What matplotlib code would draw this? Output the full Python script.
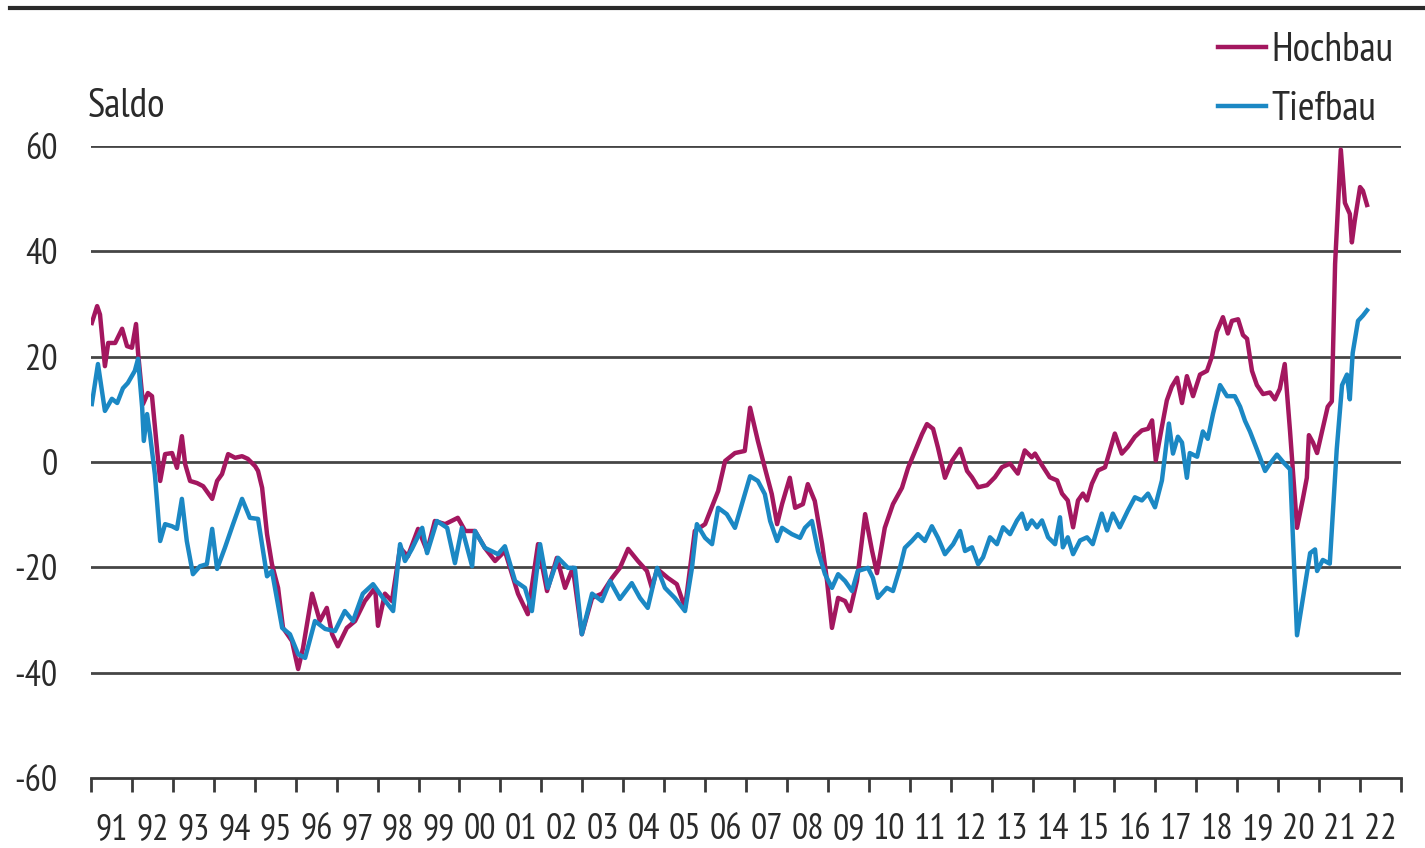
import numpy as np
import matplotlib
matplotlib.use('Agg')
import matplotlib.pyplot as plt
from matplotlib.lines import Line2D

plt.rcParams['font.family'] = ['PT Sans Narrow', 'DejaVu Sans']

# Hochbau (decimal year, Saldo)
hoch_t = [1991.02, 1991.15, 1991.22, 1991.34, 1991.42, 1991.59, 1991.76, 1991.88, 1992.00, 1992.10,
          1992.15, 1992.27, 1992.39, 1992.49, 1992.61, 1992.69, 1992.81, 1992.98, 1993.10, 1993.22,
          1993.30, 1993.42, 1993.59, 1993.74, 1993.96, 1994.08, 1994.20, 1994.35, 1994.52, 1994.69,
          1994.83, 1995.01, 1995.08, 1995.18, 1995.30, 1995.42, 1995.57, 1995.69, 1995.91, 1996.06,
          1996.18, 1996.40, 1996.59, 1996.76, 1996.89, 1997.03, 1997.25, 1997.45, 1997.69, 1997.94,
          1998.01, 1998.18, 1998.35, 1998.55, 1998.74, 1998.99, 1999.21, 1999.40, 1999.65, 1999.96,
          2000.14, 2000.38, 2000.62, 2000.87, 2001.11, 2001.43, 2001.67, 2001.92, 2002.14, 2002.38,
          2002.58, 2002.77, 2002.99, 2003.24, 2003.48, 2003.73, 2003.92, 2004.12, 2004.36, 2004.58,
          2004.70, 2004.83, 2005.09, 2005.31, 2005.51, 2005.75, 2006.00, 2006.32, 2006.49, 2006.73,
          2006.97, 2007.10, 2007.29, 2007.46, 2007.63, 2007.76, 2007.88, 2008.07, 2008.20, 2008.39,
          2008.51, 2008.68, 2008.86, 2008.98, 2009.10, 2009.25, 2009.42, 2009.54, 2009.71, 2009.91,
          2010.08, 2010.20, 2010.39, 2010.59, 2010.81, 2010.96, 2011.13, 2011.30, 2011.42, 2011.57,
          2011.69, 2011.86, 2012.03, 2012.23, 2012.40, 2012.52, 2012.67, 2012.89, 2013.08, 2013.25,
          2013.45, 2013.64, 2013.81, 2013.98, 2014.06, 2014.23, 2014.42, 2014.60, 2014.72, 2014.86,
          2014.99, 2015.11, 2015.23, 2015.33, 2015.45, 2015.60, 2015.77, 2015.89, 2016.01, 2016.18,
          2016.33, 2016.50, 2016.67, 2016.82, 2016.92, 2017.01, 2017.16, 2017.28, 2017.40, 2017.53,
          2017.65, 2017.77, 2017.92, 2018.09, 2018.26, 2018.38, 2018.50, 2018.65, 2018.77, 2018.87,
          2019.02, 2019.14, 2019.24, 2019.36, 2019.48, 2019.63, 2019.80, 2019.92, 2020.04, 2020.16,
          2020.29, 2020.46, 2020.60, 2020.70, 2020.75, 2020.85, 2020.95, 2021.09, 2021.21, 2021.31,
          2021.39, 2021.53, 2021.63, 2021.75, 2021.80, 2021.87, 2022.00, 2022.07, 2022.17]
hoch_v = [26.4, 29.6, 28.0, 18.2, 22.6, 22.6, 25.3, 22.0, 21.7, 26.2,
          20.7, 11.0, 13.1, 12.5, 2.7, -3.6, 1.5, 1.7, -1.1, 4.9,
          -0.4, -3.6, -4.0, -4.6, -7.0, -3.6, -2.3, 1.5, 0.8, 1.1,
          0.6, -0.8, -1.7, -4.9, -13.7, -19.4, -23.9, -31.5, -34.0, -39.3,
          -35.3, -25.0, -30.2, -27.7, -32.7, -35.0, -31.5, -30.2, -26.4, -23.9,
          -31.1, -25.0, -26.4, -16.3, -17.9, -12.7, -16.9, -11.2, -11.8, -10.6,
          -13.1, -13.1, -16.3, -18.8, -16.9, -25.0, -28.9, -15.6, -24.5, -18.2,
          -23.9, -20.1, -32.7, -25.8, -25.0, -22.0, -20.1, -16.5, -18.8, -20.7,
          -23.9, -20.3, -22.0, -23.2, -27.7, -13.1, -11.8, -5.5, 0.2, 1.7,
          2.1, 10.3, 4.0, -1.1, -6.1, -11.8, -8.0, -3.0, -8.7, -8.0,
          -4.2, -7.4, -15.6, -22.6, -31.5, -25.8, -26.4, -28.3, -22.6, -9.9,
          -16.9, -21.1, -12.5, -8.0, -4.9, -1.1, 2.1, 5.3, 7.2, 6.3,
          2.7, -3.0, 0.2, 2.5, -1.7, -2.9, -4.8, -4.4, -2.9, -1.0,
          -0.3, -2.2, 2.2, 0.9, 1.6, -0.6, -2.9, -3.5, -6.0, -7.3,
          -12.4, -7.3, -6.0, -7.3, -4.1, -1.6, -1.0, 2.2, 5.4, 1.6,
          2.9, 4.8, 6.0, 6.3, 7.9, 0.3, 6.7, 11.7, 14.3, 16.0,
          11.2, 16.3, 12.5, 16.6, 17.3, 20.0, 24.7, 27.5, 24.4, 26.8,
          27.1, 24.1, 23.4, 17.3, 14.6, 12.9, 13.2, 11.9, 13.9, 18.6,
          5.8, -12.5, -7.1, -3.0, 5.1, 3.7, 1.7, 6.4, 10.5, 11.5,
          37.6, 59.3, 49.2, 47.1, 41.7, 45.8, 52.2, 51.5, 48.8]

# Tiefbau (decimal year, Saldo)
tief_t = [1991.02, 1991.17, 1991.34, 1991.51, 1991.64, 1991.78, 1991.90, 1992.07, 1992.15, 1992.25,
          1992.29, 1992.37, 1992.44, 1992.56, 1992.69, 1992.81, 1992.98, 1993.10, 1993.22, 1993.34,
          1993.49, 1993.66, 1993.83, 1993.96, 1994.08, 1994.27, 1994.47, 1994.69, 1994.88, 1995.08,
          1995.30, 1995.42, 1995.67, 1995.86, 1996.06, 1996.23, 1996.47, 1996.72, 1996.96, 1997.20,
          1997.40, 1997.64, 1997.89, 1998.13, 1998.38, 1998.55, 1998.67, 1998.84, 1999.09, 1999.21,
          1999.45, 1999.70, 1999.89, 2000.06, 2000.31, 2000.38, 2000.62, 2000.94, 2001.11, 2001.36,
          2001.60, 2001.77, 2001.97, 2002.16, 2002.41, 2002.65, 2002.82, 2002.99, 2003.24, 2003.48,
          2003.68, 2003.92, 2004.21, 2004.41, 2004.60, 2004.83, 2005.02, 2005.26, 2005.51, 2005.68,
          2005.80, 2006.00, 2006.17, 2006.32, 2006.53, 2006.73, 2006.97, 2007.10, 2007.29, 2007.46,
          2007.59, 2007.76, 2007.88, 2008.12, 2008.32, 2008.44, 2008.61, 2008.76, 2008.93, 2009.10,
          2009.25, 2009.42, 2009.59, 2009.73, 2009.98, 2010.10, 2010.22, 2010.44, 2010.59, 2010.76,
          2010.88, 2011.05, 2011.20, 2011.37, 2011.54, 2011.69, 2011.86, 2012.06, 2012.23, 2012.35,
          2012.52, 2012.67, 2012.79, 2012.96, 2013.13, 2013.28, 2013.45, 2013.62, 2013.74, 2013.86,
          2013.98, 2014.11, 2014.23, 2014.38, 2014.55, 2014.67, 2014.74, 2014.86, 2014.99, 2015.16,
          2015.33, 2015.47, 2015.69, 2015.82, 2015.96, 2016.13, 2016.33, 2016.50, 2016.67, 2016.82,
          2016.99, 2017.16, 2017.33, 2017.43, 2017.55, 2017.65, 2017.77, 2017.84, 2018.02, 2018.16,
          2018.28, 2018.41, 2018.58, 2018.75, 2018.94, 2019.07, 2019.19, 2019.31, 2019.48, 2019.68,
          2019.80, 2019.97, 2020.12, 2020.29, 2020.46, 2020.60, 2020.78, 2020.90, 2020.95, 2021.09,
          2021.26, 2021.43, 2021.56, 2021.68, 2021.75, 2021.82, 2021.95, 2022.07, 2022.17]
tief_v = [11.0, 18.6, 9.7, 12.0, 11.2, 14.0, 15.0, 17.3, 19.6, 10.3,
          4.0, 9.1, 5.3, -2.3, -15.0, -11.8, -12.2, -12.7, -7.0, -15.0,
          -21.3, -19.8, -19.4, -12.7, -20.3, -16.3, -11.8, -7.0, -10.6, -10.8,
          -21.7, -20.7, -31.5, -32.7, -36.5, -37.2, -30.2, -31.7, -32.1, -28.3,
          -30.2, -25.0, -23.2, -25.8, -28.3, -15.6, -18.8, -16.5, -12.5, -17.3,
          -11.2, -12.5, -19.2, -12.5, -19.8, -13.1, -16.3, -17.5, -16.0, -22.6,
          -23.9, -28.3, -15.6, -23.9, -18.2, -20.1, -20.1, -32.7, -25.0, -26.4,
          -22.6, -26.0, -23.0, -25.8, -27.7, -20.1, -23.9, -25.8, -28.3, -20.1,
          -11.8, -14.4, -15.6, -8.7, -9.9, -12.5, -6.1, -2.7, -3.6, -6.1,
          -11.2, -15.0, -12.5, -13.7, -14.4, -12.5, -11.2, -16.9, -21.3, -23.9,
          -21.3, -22.6, -24.5, -20.7, -20.1, -22.0, -25.8, -23.9, -24.5, -20.1,
          -16.3, -15.0, -13.7, -15.0, -12.2, -14.4, -17.5, -15.6, -13.1, -16.9,
          -16.2, -19.4, -18.1, -14.3, -15.6, -12.4, -13.7, -11.1, -9.8, -12.7,
          -11.1, -12.4, -11.1, -14.3, -15.6, -10.5, -16.2, -14.3, -17.5, -14.9,
          -14.3, -15.6, -9.8, -13.0, -9.8, -12.4, -9.2, -6.7, -7.3, -6.0,
          -8.6, -3.5, 7.3, 1.6, 4.8, 3.7, -3.0, 1.7, 1.0, 5.8,
          4.4, 9.2, 14.6, 12.5, 12.5, 10.5, 7.8, 5.8, 2.4, -1.7,
          -0.3, 1.4, 0.0, -1.4, -32.9, -26.1, -17.3, -16.6, -20.7, -18.6,
          -19.3, 2.4, 14.6, 16.6, 11.9, 20.7, 26.8, 27.8, 28.8]

years = list(range(1991, 2023))
year_labels = ['91', '92', '93', '94', '95', '96', '97', '98', '99', '00', '01', '02', '03', '04', '05', '06',
               '07', '08', '09', '10', '11', '12', '13', '14', '15', '16', '17', '18', '19', '20', '21', '22']
y_ticks = [-60, -40, -20, 0, 20, 40, 60]

hoch_col = '#a3175f'
tief_col = '#1b88c4'
dark = '#3a3a3a'
txt = '#2a2a2a'
fs = 26      # tick labels
fs_txt = 29  # Saldo + legend

fig = plt.figure(figsize=(14.25, 8.48), dpi=100)
ax = fig.add_axes([91/1425, 1 - 778/848, 1310/1425, 632/848])

ax.plot(hoch_t, hoch_v, color=hoch_col, lw=3.2, label='Hochbau', solid_joinstyle='round', zorder=3)
ax.plot(tief_t, tief_v, color=tief_col, lw=3.2, label='Tiefbau', solid_joinstyle='round', zorder=3)

ax.set_xlim(1991, 2023)
ax.set_ylim(-60, 60)

for v in y_ticks[1:]:
    ax.axhline(v, color='#454545', lw=2.0, zorder=1)

for s in ['top', 'right', 'left']:
    ax.spines[s].set_visible(False)
ax.spines['bottom'].set_color(dark)
ax.spines['bottom'].set_linewidth(2.0)

ax.set_yticks(y_ticks)
ax.set_yticklabels([str(v) for v in y_ticks])
ax.tick_params(axis='y', length=0, pad=24, labelsize=fs, labelcolor=txt)

ax.set_xticks(years + [2023])
ax.set_xticklabels([])
ax.set_xticks([y + 0.5 for y in years], minor=True)
ax.set_xticklabels(year_labels, minor=True)
ax.tick_params(axis='x', which='major', length=10, width=2.0, color=dark, direction='out')
ax.tick_params(axis='x', which='minor', length=0, pad=25, labelsize=fs, labelcolor=txt)

fig.text(88/1425, 1 - 117/848, 'Saldo', fontsize=fs_txt, color=txt, va='baseline')

leg = ax.legend(loc='upper right', bbox_to_anchor=(1393/1425, 1 - 32/848), bbox_transform=fig.transFigure,
                frameon=False, fontsize=fs_txt, handlelength=1.2, handletextpad=0.12, labelspacing=0.55,
                borderpad=0, borderaxespad=0)
for t in leg.get_texts():
    t.set_color(txt)

# thick rule at the top
fig.add_artist(Line2D([10/1425, 1], [1 - 8/848, 1 - 8/848], transform=fig.transFigure, color='#2a2a2a', lw=3))

fig.savefig('out.png', dpi=100, facecolor='white')
